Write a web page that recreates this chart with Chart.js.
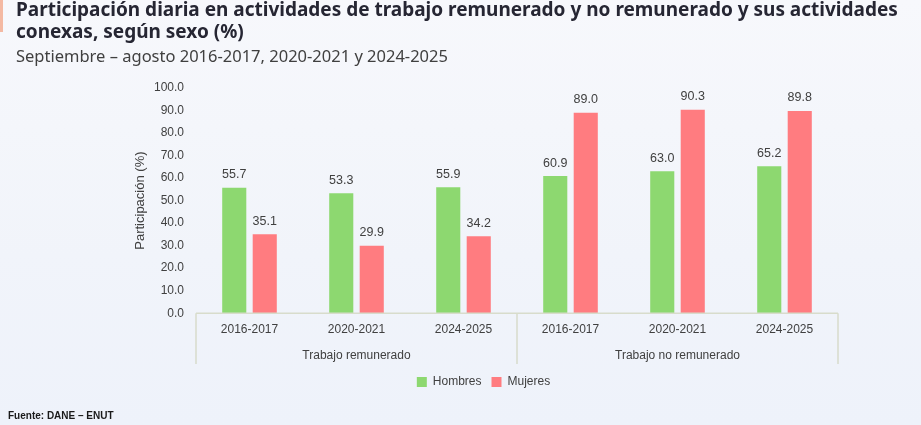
<!DOCTYPE html>
<html>
<head>
<meta charset="utf-8">
<script src="https://cdn.jsdelivr.net/npm/chart.js@4.4.1/dist/chart.umd.min.js"></script>
<style>
  html, body { margin:0; padding:0; }
  body { width:921px; height:425px; overflow:hidden; position:relative;
         background: linear-gradient(180deg, #f7f8fc 0%, #f1f4fa 60%, #eef2fa 100%);
         font-family: "Noto Sans", sans-serif; }
  #accent { position:absolute; left:0; top:0; width:3px; height:32px; background:#f4b9a3; }
  #title { position:absolute; left:16px; top:-2px; font-weight:700; font-size:19px; line-height:22px; color:#262633; white-space:nowrap; }
  #subtitle { position:absolute; left:16px; top:45px; font-size:16.5px; line-height:22px; color:#404040; white-space:nowrap; }
  #source { position:absolute; left:8px; top:410px; font-family:"Liberation Sans", Arial, sans-serif; font-weight:700; font-size:10px; color:#1a1a1a; }
  #wrap { position:absolute; left:0; top:0; width:921px; height:425px; }
</style>
</head>
<body>
<div id="wrap"><canvas id="c" width="921" height="425"></canvas></div>
<div id="accent"></div>
<div id="title">Participación diaria en actividades de trabajo remunerado y no remunerado y sus actividades<br>conexas, según sexo (%)</div>
<div id="subtitle">Septiembre – agosto 2016-2017, 2020-2021 y 2024-2025</div>
<div id="source">Fuente: DANE – ENUT</div>
<script>
const categories = ['2016-2017','2020-2021','2024-2025','2016-2017','2020-2021','2024-2025'];
const groups = ['Trabajo remunerado','Trabajo no remunerado'];
const hombres = [55.7, 53.3, 55.9, 60.9, 63.0, 65.2];
const mujeres = [35.1, 29.9, 34.2, 89.0, 90.3, 89.8];
const yMin = 0, yMax = 100, yStep = 10;

const FONT = '"Liberation Sans", Arial, sans-serif';
const TXT = '#404040';

const valueLabels = {
  id: 'valueLabels',
  afterDatasetsDraw(chart) {
    const ctx = chart.ctx;
    ctx.save();
    ctx.font = '12.5px ' + FONT;
    ctx.fillStyle = TXT;
    ctx.textAlign = 'center';
    ctx.textBaseline = 'middle';
    chart.data.datasets.forEach((ds, i) => {
      chart.getDatasetMeta(i).data.forEach((bar, j) => {
        ctx.fillText(ds.data[j].toFixed(1), bar.x, bar.y - 13);
      });
    });
    ctx.restore();
  }
};

const axisBox = {
  id: 'axisBox',
  afterDraw(chart) {
    const ctx = chart.ctx, ca = chart.chartArea, x = chart.scales.x, x2 = chart.scales.x2;
    const bottom = x2.bottom - 2;
    const mid = (x.getPixelForValue(2) + x.getPixelForValue(3)) / 2;
    ctx.save();
    ctx.strokeStyle = '#d8dccb';
    ctx.lineWidth = 1.5;
    ctx.beginPath();
    ctx.moveTo(ca.left, ca.bottom); ctx.lineTo(ca.right, ca.bottom);
    [ca.left, mid, ca.right].forEach(px => { ctx.moveTo(px, ca.bottom); ctx.lineTo(px, bottom); });
    ctx.stroke();
    ctx.restore();
  }
};

new Chart(document.getElementById('c'), {
  type: 'bar',
  data: {
    labels: categories,
    datasets: [
      { label: 'Hombres', data: hombres, backgroundColor: '#8dd870', categoryPercentage: 0.57, barPercentage: 0.79 },
      { label: 'Mujeres', data: mujeres, backgroundColor: '#ff7c80', categoryPercentage: 0.57, barPercentage: 0.79 }
    ]
  },
  options: {
    responsive: false,
    animation: false,
    layout: { padding: { left: 129, right: 83, top: 88, bottom: 27 } },
    plugins: {
      legend: {
        position: 'bottom',
        labels: { boxWidth: 10, boxHeight: 10, padding: 10, color: TXT, font: { family: FONT, size: 12 } }
      },
      tooltip: { enabled: false }
    },
    scales: {
      x: {
        grid: { display: false, drawTicks: false },
        border: { display: false },
        ticks: { color: TXT, padding: 9, font: { family: FONT, size: 12 }, maxRotation: 0 },
        afterFit(s) { s.height = 28; }
      },
      x2: {
        type: 'category',
        labels: groups,
        position: 'bottom',
        offset: true,
        grid: { display: false, drawTicks: false },
        border: { display: false },
        ticks: { color: TXT, padding: 7, font: { family: FONT, size: 12 }, maxRotation: 0 },
        afterFit(s) { s.height = 24.8; }
      },
      y: {
        min: yMin, max: yMax,
        grid: { display: false, drawTicks: false },
        border: { display: false },
        ticks: { stepSize: yStep, padding: 12, color: TXT, font: { family: FONT, size: 12 },
                 callback: v => Number(v).toFixed(1) },
        title: { display: true, text: 'Participación (%)', color: TXT, font: { family: FONT, size: 13 } },
        afterFit(s) { s.width = 67; }
      }
    }
  },
  plugins: [valueLabels, axisBox]
});
</script>
</body>
</html>
